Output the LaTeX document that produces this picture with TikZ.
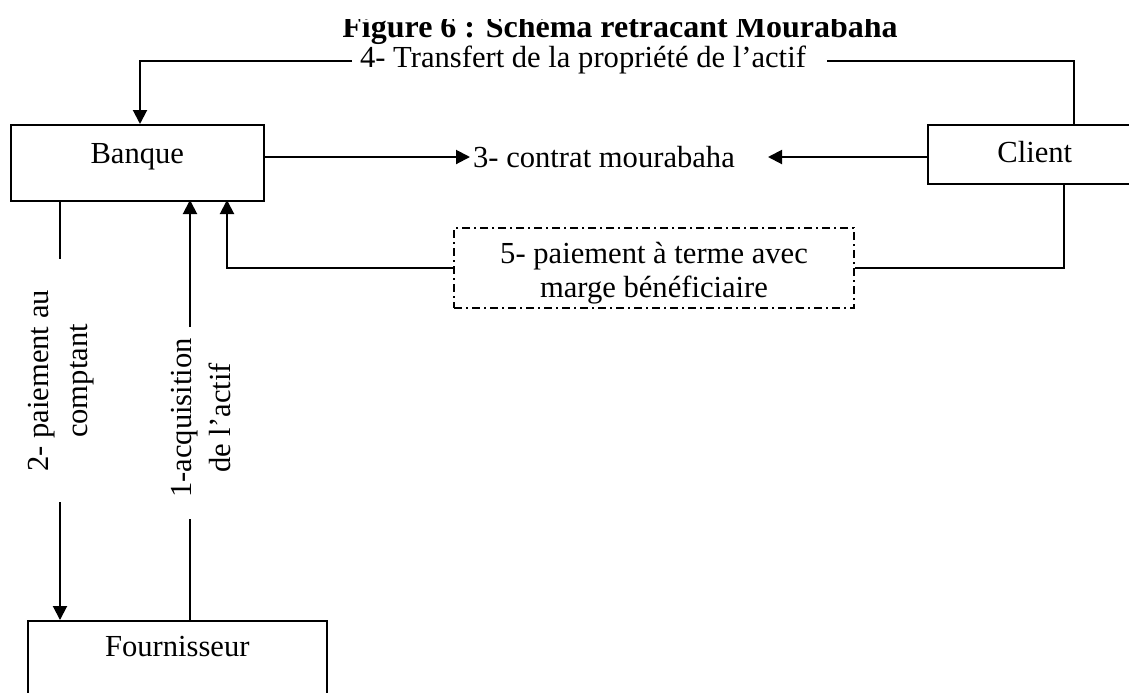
\documentclass[tikz,border=0pt]{standalone}
\usepackage{fontspec}
\setmainfont{Liberation Serif}
\usetikzlibrary{arrows.meta}

\begin{document}
\begin{tikzpicture}[x=0.5pt,y=-0.5pt,
    txt/.style={font=\fontsize{15.3}{19.5}\selectfont,align=center,inner sep=0pt},
    box/.style={txt,draw,line width=0.8pt,anchor=north west},
    dashdot/.style={txt,draw,line width=0.8pt,dash pattern=on 4pt off 2pt on 1pt off 2pt},
    link/.style={line width=1pt},
    arr/.style={link,-{Triangle[length=7pt,width=7pt]}}]
    % Page size of the reference
    \useasboundingbox (0,0) rectangle (1129,692);

    % Title (its top is cut off)
    \begin{scope}
        \clip (0,19) rectangle (1129,80);
        \node[anchor=base,font=\fontsize{16}{19}\selectfont\bfseries] (title) at (620,37)
            {Figure 6 : Schéma retracant Mourabaha};
    \end{scope}

    % The three parties
    \node[box,minimum width=126.5pt,text height=19.5pt,text depth=18.5pt] (banque) at (10,124) {Banque};
    \node[box,minimum width=107pt,text height=19pt,text depth=10.5pt] (client) at (927,124) {Client};
    \node[box,minimum width=149.5pt,text height=18pt,text depth=32pt] (fourn) at (27,620) {Fournisseur};

    % Labels of the steps
    \node[txt] (transfert) at (583,60) {4- Transfert de la propriété de l’actif};
    \node[txt] (contrat) at (604,157) {3- contrat mourabaha};
    \node[dashdot,font=\fontsize{15.3}{17}\selectfont,text height=32.5pt,text depth=3.5pt,
        minimum width=200pt,minimum height=40pt] (paiement) at (654,268)
        {5- paiement à terme avec\\marge bénéficiaire};
    \node[txt,rotate=90] (comptant) at (61,381) {2- paiement au\\comptant};
    \node[txt,rotate=90] (acquisition) at (201,418) {1-acquisition\\de l’actif};

    % End points of the connectors
    \coordinate (B4) at (140,124);
    \coordinate (C4) at (1074,124);
    \coordinate (T4l) at (352,61);
    \coordinate (T4r) at (827,61);
    \coordinate (B3) at (263,157);
    \coordinate (K3l) at (470,157);
    \coordinate (K3r) at (768,157);
    \coordinate (C3) at (927,157);
    \coordinate (C5) at (1064,183);
    \coordinate (B5) at (227,200);
    \coordinate (B2) at (60,200);
    \coordinate (P2a) at (60,259);
    \coordinate (P2b) at (60,502);
    \coordinate (F2) at (60,620);
    \coordinate (B1) at (190,200);
    \coordinate (A1a) at (190,327);
    \coordinate (A1b) at (190,519);
    \coordinate (F1) at (190,620);

    % 4- transfer of ownership
    \draw[link] (C4) |- (T4r);
    \draw[arr] (T4l) -| (B4);

    % 3- contract
    \draw[arr] (B3) -- (K3l);
    \draw[arr] (C3) -- (K3r);

    % 5- deferred payment
    \draw[link] (C5) |- (paiement.east);
    \draw[arr] (paiement.west) -| (B5);

    % 2- cash payment
    \draw[link] (B2) -- (P2a);
    \draw[arr] (P2b) -- (F2);

    % 1- acquisition
    \draw[link] (F1) -- (A1b);
    \draw[arr] (A1a) -- (B1);
\end{tikzpicture}
\end{document}
